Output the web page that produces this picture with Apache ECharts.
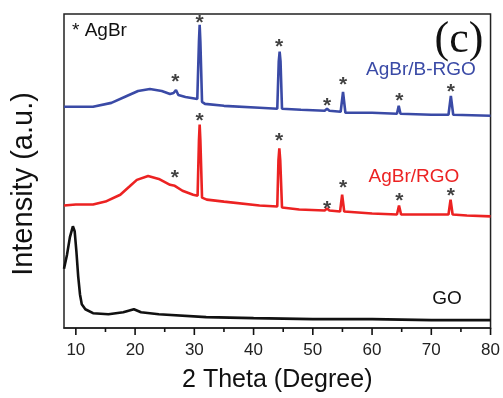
<!DOCTYPE html>
<html>
<head>
<meta charset="utf-8">
<script src="https://cdn.jsdelivr.net/npm/echarts@6/dist/echarts.min.js"></script>
<style>
    html, body { margin: 0; padding: 0; background: #fff; }
    #grafico { width: 503px; height: 398px; }
</style>
</head>
<body>
<div id="grafico"></div>
<script>
    // valores: [2 theta, intensidade (u.a.)]
    var curvaGO = [
        [8, 60], [8.5, 74], [9, 92], [9.5, 103], [9.8, 98], [10.1, 77], [10.4, 52],
        [10.7, 34], [11, 24], [11.6, 19], [12.9, 15], [15.5, 14], [18, 16], [19.8, 19],
        [21, 16], [24, 14], [32, 11], [40, 10], [50, 9], [60, 9], [70, 8], [80, 8]
    ];
    var curvaRGO = [
        [8, 124], [10, 125], [12.9, 125], [15, 128], [17.5, 135], [19, 143], [20.3, 150],
        [22.2, 154], [24, 151], [25.9, 145], [26.7, 144], [28, 139], [29.8, 135],
        [30.55, 134], [30.78, 190], [30.9, 206], [31.02, 190], [31.3, 132], [32.1, 130],
        [35, 128], [41, 124], [44.0, 123], [44.2, 170], [44.35, 182], [44.5, 170],
        [44.8, 122], [47.7, 120], [52.0, 119], [52.4, 121], [52.8, 119],
        [54.6, 118], [54.95, 135], [55.3, 118], [60, 116], [64.2, 115], [64.55, 124],
        [64.9, 115], [70, 115], [72.9, 115], [73.25, 130], [73.6, 115], [76, 114], [80, 113]
    ];
    var curvaBRGO = [
        [8, 224], [12.9, 224], [16, 228], [18.6, 235], [20.5, 240], [22.5, 242],
        [24.5, 240], [25.9, 237], [26.5, 238], [26.9, 241], [27.3, 236], [28.5, 234],
        [30.5, 232], [30.78, 290], [30.9, 307], [31.02, 290], [31.3, 229], [31.8, 227],
        [35, 225], [41, 223], [44.0, 222], [44.25, 270], [44.4, 280], [44.55, 270],
        [44.8, 222], [48, 221], [52.0, 220], [52.4, 222], [52.8, 220], [54.7, 219],
        [55.1, 239], [55.5, 218], [60, 218], [64.2, 217], [64.5, 225], [64.8, 217],
        [70, 216], [72.9, 216], [73.3, 235], [73.7, 216], [80, 215]
    ];
    // asteriscos (picos de AgBr)
    var estrelasRGO = [[26.7, 157], [30.9, 215], [44.3, 194], [52.4, 125], [55.1, 147], [64.6, 133], [73.3, 139]];
    var estrelasBRGO = [[26.8, 254], [30.9, 314], [44.3, 289], [52.4, 230], [55.1, 251], [64.6, 235], [73.3, 244]];
    var ticksPrincipais = [10, 20, 30, 40, 50, 60, 70, 80];
    var ticksMenores = [15, 25, 35, 45, 55, 65, 75];

    var fonte = 'Liberation Sans, Arial, sans-serif';
    var azul = '#3a4aa6';
    var vermelho = '#ec2222';

    var myChart = echarts.init(document.getElementById('grafico'));

    function estrelas(dados) {
        return {
            type: 'scatter',
            data: dados,
            symbolSize: 1,
            itemStyle: { color: 'transparent' },
            silent: true,
            z: 5,
            label: {
                show: true,
                formatter: '*',
                position: 'inside',
                fontSize: 21,
                fontWeight: 'bold',
                fontFamily: fonte,
                color: '#111',
                offset: [0, 5]
            }
        };
    }

    // marcas do eixo x (para fora): pontos retangulares sobre y = 0
    function marcas(valores, comprimento) {
        return {
            type: 'scatter',
            silent: true,
            clip: false,
            z: 10,
            data: valores.map(function (v) { return [v, 0]; }),
            symbol: 'rect',
            symbolSize: [1.6, comprimento],
            symbolOffset: [0, comprimento / 2],
            itemStyle: { color: '#111', opacity: 1 }
        };
    }

    var option = {
        animation: false,
        grid: {
            left: 64, right: 11, top: 14, bottom: 66,
            show: true, borderColor: '#222', borderWidth: 1.5
        },
        xAxis: {
            type: 'value', min: 8, max: 80,
            splitLine: { show: false },
            axisLine: { show: true, lineStyle: { color: '#222', width: 1.5 } },
            axisTick: { show: false },
            axisLabel: { customValues: ticksPrincipais, fontSize: 17, color: '#222', fontFamily: fonte, margin: 14 },
            name: '2 Theta (Degree)', nameLocation: 'middle', nameGap: 40,
            nameTextStyle: { fontSize: 25, color: '#111', fontFamily: fonte }
        },
        yAxis: {
            type: 'value', min: 0, max: 318,
            axisLine: { show: false }, axisTick: { show: false },
            axisLabel: { show: false }, splitLine: { show: false }
        },
        graphic: [
            { type: 'text', x: 72, y: 31, style: { text: '* AgBr', font: '19px ' + fonte, fill: '#111', verticalAlign: 'middle' } },
            { type: 'text', x: 459, y: 40, style: { text: '(c)', font: '44px Liberation Serif, Times New Roman, serif', fill: '#111', align: 'center', verticalAlign: 'middle' } },
            { type: 'text', x: 421, y: 70, style: { text: 'AgBr/B-RGO', font: '19px ' + fonte, fill: azul, align: 'center', verticalAlign: 'middle' } },
            { type: 'text', x: 414, y: 177, style: { text: 'AgBr/RGO', font: '19px ' + fonte, fill: vermelho, align: 'center', verticalAlign: 'middle' } },
            { type: 'text', x: 447, y: 299, style: { text: 'GO', font: '19px ' + fonte, fill: '#111', align: 'center', verticalAlign: 'middle' } },
            { type: 'text', x: 24, y: 184, rotation: Math.PI / 2, style: { text: 'Intensity (a.u.)', font: '29px ' + fonte, fill: '#111', align: 'center', verticalAlign: 'middle' } }
        ],
        series: [
            { name: 'GO', type: 'line', data: curvaGO, showSymbol: false, lineStyle: { color: '#111', width: 2.6 } },
            { name: 'AgBr/RGO', type: 'line', data: curvaRGO, showSymbol: false, lineStyle: { color: vermelho, width: 2.6 } },
            { name: 'AgBr/B-RGO', type: 'line', data: curvaBRGO, showSymbol: false, lineStyle: { color: azul, width: 2.6 } },
            estrelas(estrelasRGO),
            estrelas(estrelasBRGO),
            marcas(ticksPrincipais, 7),
            marcas(ticksMenores, 4)
        ]
    };

    myChart.setOption(option);
</script>
</body>
</html>
